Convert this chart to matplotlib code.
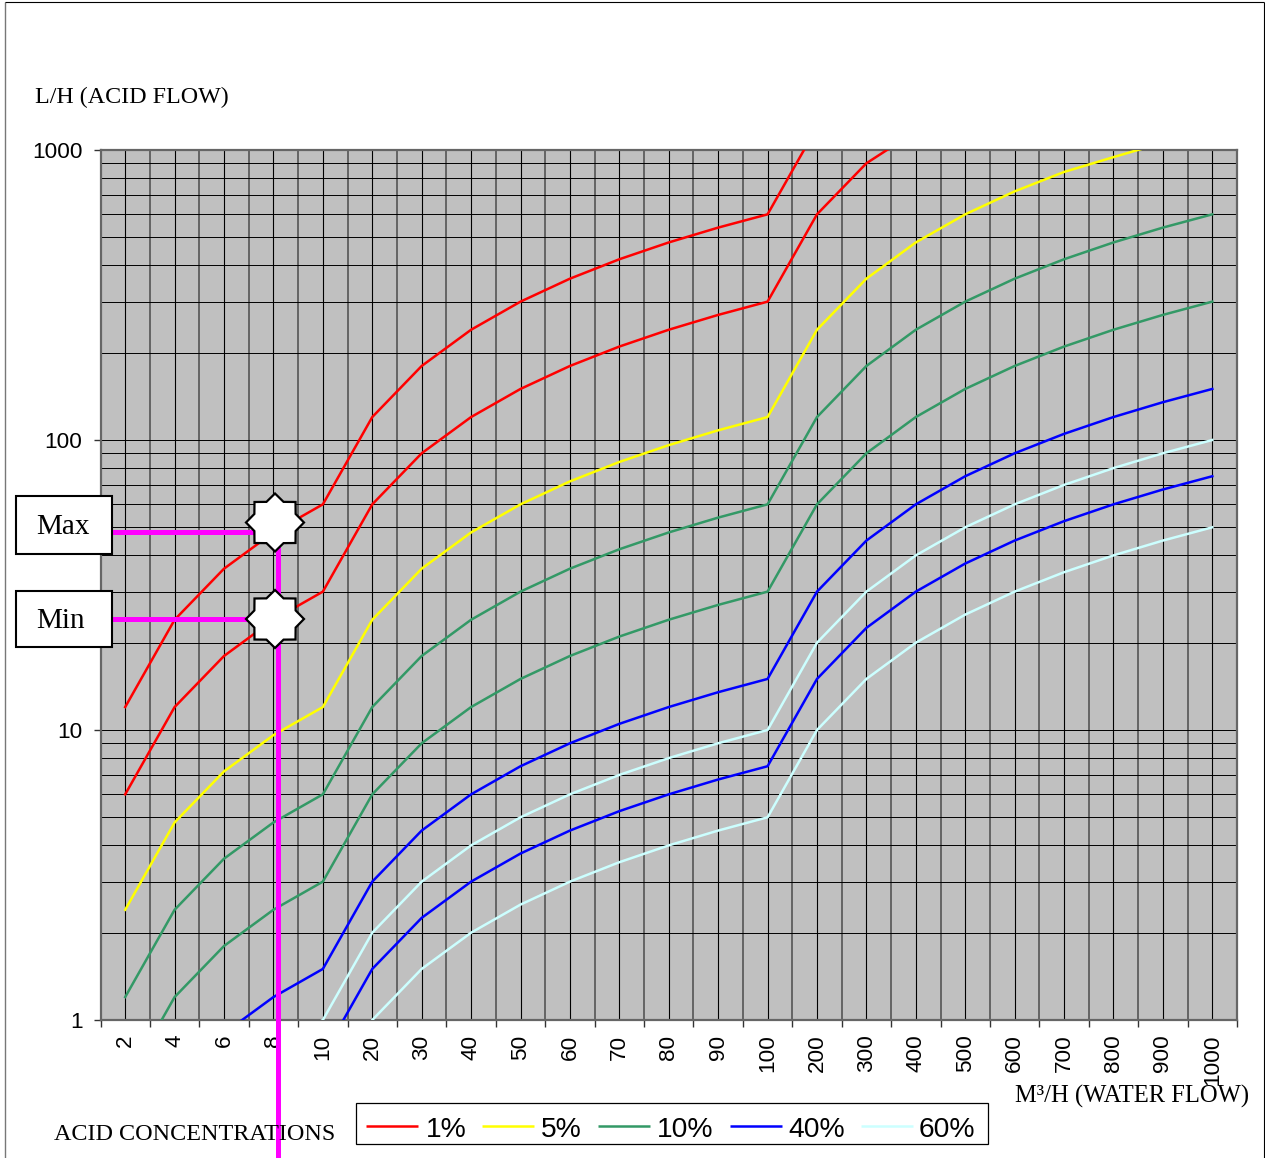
import matplotlib
matplotlib.use('Agg')
import matplotlib.pyplot as plt
from matplotlib.lines import Line2D
from matplotlib.patches import PathPatch, Rectangle
from matplotlib.path import Path
from matplotlib.ticker import LogLocator, NullFormatter
from matplotlib.transforms import Affine2D

W, H = 1265, 1158

water_flow = ['2', '4', '6', '8', '10', '20', '30', '40', '50', '60', '70', '80', '90', '100',
              '200', '300', '400', '500', '600', '700', '800', '900', '1000']

red_max = [12, 24, 36, 48, 60, 120, 180, 240, 300, 360, 420, 480, 540, 600,
           1200, 1800, 2400, 3000, 3600, 4200, 4800, 5400, 6000]
red_min = [6, 12, 18, 24, 30, 60, 90, 120, 150, 180, 210, 240, 270, 300,
           600, 900, 1160, 1500, 1800, 2100, 2400, 2700, 3000]
yellow = [2.4, 4.8, 7.2, 9.6, 12, 24, 36, 48, 60, 72, 84, 96, 108, 120,
          240, 360, 480, 600, 720, 840, 945, 1060, 1200]
green_max = [1.2, 2.4, 3.6, 4.8, 6, 12, 18, 24, 30, 36, 42, 48, 54, 60,
             120, 180, 240, 300, 360, 420, 480, 540, 600]
green_min = [0.6, 1.2, 1.8, 2.4, 3, 6, 9, 12, 15, 18, 21, 24, 27, 30,
             60, 90, 120, 150, 180, 210, 240, 270, 300]
blue_max = [0.3, 0.6, 0.9, 1.2, 1.5, 3, 4.5, 6, 7.5, 9, 10.5, 12, 13.5, 15,
            30, 45, 60, 75, 90, 105, 120, 135, 150]
blue_min = [0.15, 0.3, 0.45, 0.6, 0.75, 1.5, 2.25, 3, 3.75, 4.5, 5.25, 6, 6.75, 7.5,
            15, 22.5, 30, 37.5, 45, 52.5, 60, 67.5, 75]
light_max = [0.2, 0.4, 0.6, 0.8, 1, 2, 3, 4, 5, 6, 7, 8, 9, 10,
             20, 30, 40, 50, 60, 70, 80, 90, 100]
light_min = [0.1, 0.2, 0.3, 0.4, 0.5, 1, 1.5, 2, 2.5, 3, 3.5, 4, 4.5, 5,
             10, 15, 20, 25, 30, 35, 40, 45, 50]

concentrations = ['1%', '5%', '10%', '40%', '60%']

RED, YELLOW, GREEN, BLUE, LIGHT = '#ff0000', '#ffff00', '#339966', '#0000ff', '#ccffff'
legend_colors = [RED, YELLOW, GREEN, BLUE, LIGHT]
MAGENTA = '#ff00ff'
SERIF = 'Liberation Serif'
SANS = 'Liberation Sans'


def fx(x):
    return x / W


def fy(y):
    return 1 - y / H


def fig_line(x0, y0, x1, y1, color, lw, zorder=2):
    fig.add_artist(Line2D([fx(x0), fx(x1)], [fy(y0), fy(y1)], color=color, lw=lw,
                          solid_capstyle='butt', zorder=zorder))


def label_box(x0, y0, x1, y1, text):
    fig.add_artist(Rectangle((fx(x0), fy(y1)), (x1 - x0) / W, (y1 - y0) / H, facecolor='white',
                             edgecolor='black', lw=1.5, zorder=4))
    fig.text(fx(36), fy((y0 + y1) / 2 + 2), text, family=SERIF, fontsize=21,
             ha='left', va='center', zorder=5)


def star(cx, cy, r):
    path = Path.unit_regular_star(8, innerCircle=0.77)
    tr = Affine2D().scale(r).translate(cx, H - cy)
    fig.add_artist(PathPatch(path, transform=tr, facecolor='white', edgecolor='black',
                             lw=1.6, joinstyle='miter', zorder=4))


fig = plt.figure(figsize=(W / 100, H / 100), dpi=100)
ax = fig.add_axes([100.5 / W, 1 - 1020 / H, (1237 - 100.5) / W, (1020 - 150) / H])
ax.set_facecolor('#c0c0c0')
ax.set_yscale('log')
ax.set_xlim(-0.5, 22.5)
ax.set_ylim(1, 1000)

x = list(range(len(water_flow)))
for values, color in [(red_max, RED), (red_min, RED), (yellow, YELLOW), (green_max, GREEN),
                      (green_min, GREEN), (blue_max, BLUE), (blue_min, BLUE),
                      (light_max, LIGHT), (light_min, LIGHT)]:
    ax.plot(x, values, color=color, lw=1.8, zorder=3)

# category labels sit on the minor ticks, tick marks on the category boundaries
ax.set_xticks([i - 0.5 for i in range(len(water_flow) + 1)])
ax.set_xticklabels([])
ax.set_xticks(x, minor=True)
ax.set_xticklabels(water_flow, minor=True, rotation=90, family=SANS, fontsize=16.2, va='top', ha='center')
ax.tick_params(axis='x', which='major', length=5, width=1, color='#333333')
ax.tick_params(axis='x', which='minor', length=0, pad=10.5)

ax.set_yticks([1, 10, 100, 1000])
ax.set_yticklabels(['1', '10', '100', '1000'], family=SANS, fontsize=16.2)
ax.yaxis.set_minor_locator(LogLocator(base=10, subs=range(2, 10)))
ax.yaxis.set_minor_formatter(NullFormatter())
ax.tick_params(axis='y', which='major', length=5, width=1, pad=8, color='#333333')
ax.tick_params(axis='y', which='minor', length=0)

ax.grid(True, axis='x', which='major', color='#555555', lw=1.2, zorder=1)
ax.grid(True, axis='x', which='minor', color='black', lw=0.8, zorder=1)
ax.grid(True, axis='y', which='both', color='black', lw=0.7, zorder=1)
ax.set_axisbelow(True)
for side in ax.spines.values():
    side.set_color('#666666')
    side.set_linewidth(1.6)

# outer frame
fig_line(5, 2, 5, H, '#777777', 1.0)
fig_line(5, 2, 1264, 2, 'black', 0.8)
fig_line(1264, 2, 1264, H, 'black', 0.8)

# reading lines for the 8 m3/h example
fig_line(112, 532, 275, 532, MAGENTA, 3.6)
fig_line(112, 619, 275, 619, MAGENTA, 3.6)
fig_line(277.5, 540, 277.5, H, MAGENTA, 3.6)
star(275, 522.5, 29)
star(275, 619, 29)
label_box(15.5, 496.5, 112, 554, 'Max')
label_box(15.5, 590.5, 112, 647, 'Min')

fig.text(fx(35), fy(97), 'L/H (ACID FLOW)', family=SERIF, fontsize=17.3, va='center', zorder=5)
fig.text(fx(1015), fy(1096), 'M\u00b3/H (WATER FLOW)', family=SERIF, fontsize=17.7, va='center', zorder=5)
fig.text(fx(54), fy(1134), 'ACID CONCENTRATIONS', family=SERIF, fontsize=17.4, va='center', zorder=5)

# legend placed by hand: its entries sit low in the box in the original
fig.add_artist(Rectangle((fx(356), fy(1144)), (988 - 356) / W, (1144 - 1103) / H, facecolor='white',
                         edgecolor='black', lw=0.9, zorder=2))
legend_line_x = [366, 482, 598, 730, 861]
legend_text_x = [426, 541, 657, 788, 919]
for name, color, lx, tx in zip(concentrations, legend_colors, legend_line_x, legend_text_x):
    fig_line(lx, 1126, lx + 52, 1126, color, 1.8, zorder=3)
    fig.text(fx(tx), fy(1137), name, family=SANS, fontsize=20.3, va='baseline', zorder=3)

fig.savefig('out.png', dpi=100, facecolor='white')
